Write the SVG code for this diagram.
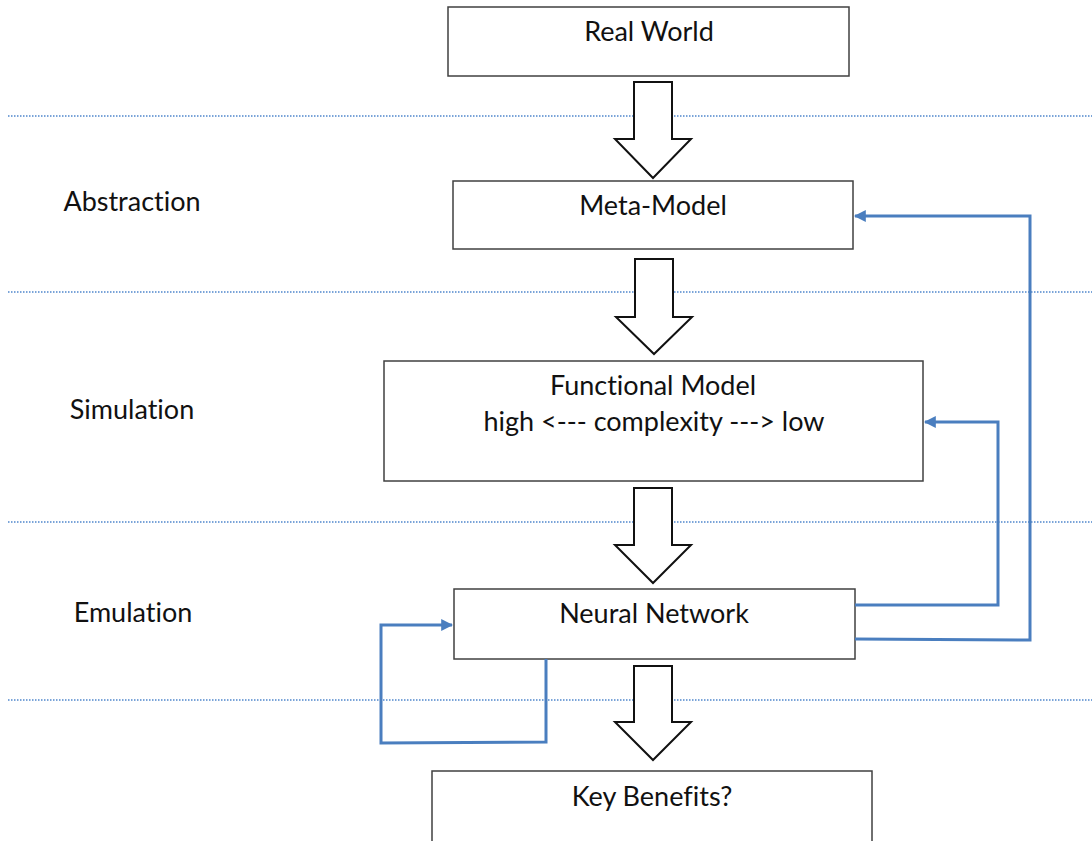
<svg xmlns="http://www.w3.org/2000/svg" width="1092" height="841" viewBox="0 0 1092 841">
<style>
.box{fill:#fff;stroke:#404040;stroke-width:1.5}
.t{font-family:Lato,"Open Sans",sans-serif;font-size:27px;fill:#111;text-anchor:middle;font-variant-ligatures:none}
.dot{stroke:#4f86cc;stroke-width:1.6;stroke-dasharray:1.5 1.5;fill:none}
.blk{fill:#fff;stroke:#111;stroke-width:2}
.fb{fill:none;stroke:#4a7ebf;stroke-width:3}
</style>
<defs>
<marker id="ah" viewBox="0 0 10 10" refX="9" refY="5" markerWidth="4" markerHeight="4" orient="auto" markerUnits="strokeWidth">
<path d="M0,0 L10,5 L0,10 z" fill="#4a7ebf"/>
</marker>
</defs>
<g id="separators">
<line class="dot" x1="8" y1="116" x2="1092" y2="116"/>
<line class="dot" x1="8" y1="292" x2="1092" y2="292"/>
<line class="dot" x1="8" y1="522" x2="1092" y2="522"/>
<line class="dot" x1="8" y1="700" x2="1092" y2="700"/>
</g>
<g id="labels">
<text class="t" x="132" y="211">Abstraction</text>
<text class="t" x="132" y="419">Simulation</text>
<text class="t" x="133" y="622">Emulation</text>
</g>
<g id="block-arrows">
<path class="blk" d="M634,82 H672 V139 H691 L653,178 L615,139 H634 Z"/>
<path class="blk" d="M635,259 H673 V317 H692 L654,354 L616,317 H635 Z"/>
<path class="blk" d="M634,488 H672 V545 H691 L653,583 L615,545 H634 Z"/>
<path class="blk" d="M634,666 H672 V722 H691 L653,760 L615,722 H634 Z"/>
</g>
<g id="real-world"><rect class="box" x="448" y="7" width="401" height="69"/><text class="t" x="649" y="41">Real World</text></g>
<g id="meta-model"><rect class="box" x="453" y="181" width="400" height="68"/><text class="t" x="653" y="215">Meta-Model</text></g>
<g id="functional-model"><rect class="box" x="384" y="361" width="539" height="120"/><text class="t" x="653" y="395">Functional Model</text><text class="t" x="654" y="431">high &lt;--- complexity ---&gt; low</text></g>
<g id="neural-network"><rect class="box" x="454" y="589" width="401" height="70"/><text class="t" x="654" y="623">Neural Network</text></g>
<g id="key-benefits"><rect class="box" x="432" y="771" width="440" height="80"/><text class="t" x="652" y="806">Key Benefits?</text></g>
<g id="connectors">
<polyline class="fb" points="855,639 1030,640 1030,216 855,216" marker-end="url(#ah)"/>
<polyline class="fb" points="855,605 998,605 998,422 925,422" marker-end="url(#ah)"/>
<polyline class="fb" points="546,659 546,742 381,743 381,625 452,625" marker-end="url(#ah)"/>
</g>
</svg>
